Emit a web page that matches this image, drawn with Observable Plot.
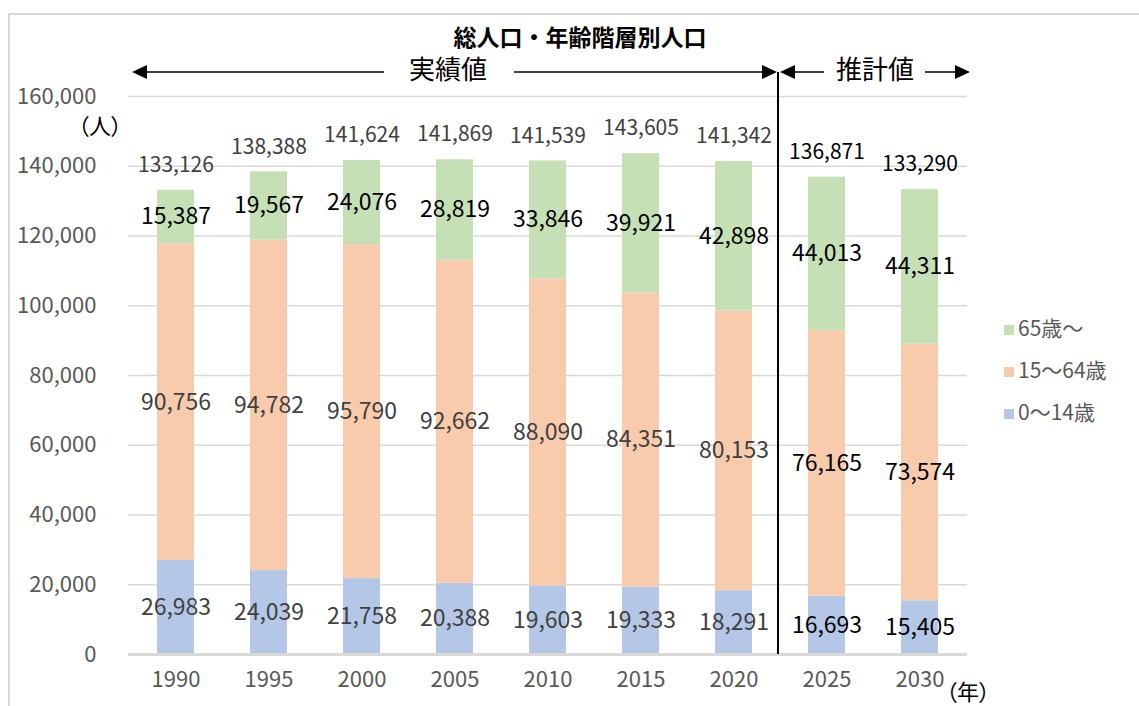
<!DOCTYPE html>
<html lang="ja">
<head>
<meta charset="utf-8">
<script src="https://cdn.jsdelivr.net/npm/d3@7"></script>
<script src="https://cdn.jsdelivr.net/npm/@observablehq/plot@0.6"></script>
<style>
  html, body { margin: 0; padding: 0; background: #fff; }
  #wrap { position: relative; width: 1139px; height: 706px; overflow: hidden; }
  #frame { position: absolute; left: 8px; top: 13px; width: 1200px; height: 800px;
           border-top: 2px solid #d9d9d9; border-left: 2px solid #d9d9d9; box-sizing: border-box; }
  #chart { position: absolute; left: 0; top: 0; }
  .palt { font-feature-settings: "palt"; }
</style>
</head>
<body>
<div id="wrap"><div id="frame"></div><div id="chart"></div></div>
<script>
// ---- data ----
const title = "総人口・年齢階層別人口";
const years = ["1990", "1995", "2000", "2005", "2010", "2015", "2020", "2025", "2030"];
const projectedYears = ["2025", "2030"];
const groups = ["0～14歳", "15～64歳", "65歳～"];
const age0to14 = [26983, 24039, 21758, 20388, 19603, 19333, 18291, 16693, 15405];
const age15to64 = [90756, 94782, 95790, 92662, 88090, 84351, 80153, 76165, 73574];
const age65plus = [15387, 19567, 24076, 28819, 33846, 39921, 42898, 44013, 44311];
const totals = [133126, 138388, 141624, 141869, 141539, 143605, 141342, 136871, 133290];
const yTicks = [0, 20000, 40000, 60000, 80000, 100000, 120000, 140000, 160000];
const colors = ["#B4C7E7", "#F8CBAD", "#C5E0B4"];
const actualLabel = "実績値";
const projectedLabel = "推計値";
const yUnit = "（人）";
const xUnit = "（年）";

// ---- table ----
const series = [age0to14, age15to64, age65plus];
const rows = [];
groups.forEach((g, gi) => years.forEach((y, i) => rows.push({year: y, group: g, value: series[gi][i]})));
const totalRows = years.map((y, i) => ({year: y, total: totals[i]}));

const fmt = d3.format(",");
const font = '"Noto Sans CJK JP", "Noto Sans", sans-serif';
const W = 1139, H = 706;
const groupColor = g => colors[groups.indexOf(g)];
const labelColor = d => (d.group === "65歳～" || projectedYears.includes(d.year)) ? "#000000" : "#404040";
const totalColor = d => projectedYears.includes(d.year) ? "#000000" : "#404040";

const plot = Plot.plot({
  width: W, height: H,
  marginTop: 96, marginBottom: 52, marginLeft: 128, marginRight: 172,
  style: {fontFamily: font, fontSize: "21px", background: "transparent", overflow: "visible"},
  x: {domain: years, paddingInner: 0.6, paddingOuter: 0.3, label: null},
  y: {domain: [0, 160000], label: null},
  color: {type: "identity"},
  marks: [
    Plot.gridY(yTicks, {stroke: "#d9d9d9", strokeOpacity: 1, strokeWidth: 1.5}),
    Plot.barY(rows, {x: "year", y: "value", z: "group", fill: d => groupColor(d.group)}),
    Plot.ruleY([0], {stroke: "#d9d9d9", strokeWidth: 3}),
    Plot.axisY(yTicks, {tickSize: 0, tickPadding: 32, tickFormat: fmt, fill: "#595959", fontSize: 22, label: null}),
    Plot.axisX({tickSize: 0, tickPadding: 17, fill: "#595959", fontSize: 22, label: null}),
    Plot.text(rows, Plot.stackY({x: "year", y: "value", z: "group", text: d => fmt(d.value),
      fill: labelColor, fontSize: 23})),
    Plot.text(totalRows, {x: "year", y: "total", dy: -25, text: d => fmt(d.total), fontSize: 21,
      fill: totalColor})
  ]
});
document.getElementById("chart").appendChild(plot);

// ---- annotations positioned from Plot scales ----
const xs = plot.scale("x"), ys = plot.scale("y");
const svg = d3.select(plot);
const left = 128, right = W - 172;
const yTop = ys.apply(160000), yBase = ys.apply(0);
const xDiv = (xs.apply("2020") + xs.apply("2025") + xs.bandwidth) / 2 - 2;
const arrowY = yTop - 24;
const g = svg.append("g").attr("font-family", font);

function arrow(x1, x2, y) {
  const dir = Math.sign(x2 - x1);
  g.append("line").attr("x1", x1).attr("x2", x2 - dir * 12).attr("y1", y).attr("y2", y)
    .attr("stroke", "#000").attr("stroke-width", 1.5);
  g.append("path").attr("d", `M${x2},${y}L${x2 - dir * 15},${y - 7}L${x2 - dir * 15},${y + 7}Z`).attr("fill", "#000");
}

// title
g.append("text").attr("x", 580).attr("y", yTop - 56).attr("text-anchor", "middle")
  .attr("dominant-baseline", "middle").attr("font-size", 23).attr("font-weight", "bold").attr("fill", "#000").text(title);

// divider
g.append("line").attr("x1", xDiv).attr("x2", xDiv).attr("y1", arrowY).attr("y2", yBase)
  .attr("stroke", "#000").attr("stroke-width", 2);

// actual-values arrows
const aCenter = (left + 4 + xDiv) / 2 - 7;
arrow(aCenter - 64, left + 4, arrowY);
arrow(aCenter + 66, xDiv - 1, arrowY);
g.append("text").attr("x", aCenter).attr("y", arrowY).attr("text-anchor", "middle")
  .attr("dominant-baseline", "middle").attr("font-size", 26).attr("fill", "#000").text(actualLabel);

// projected-values arrows
const pCenter = (xDiv + 2 + right + 3) / 2;
arrow(pCenter - 51, xDiv + 2, arrowY);
arrow(pCenter + 50, right + 3, arrowY);
g.append("text").attr("x", pCenter).attr("y", arrowY).attr("text-anchor", "middle")
  .attr("dominant-baseline", "middle").attr("font-size", 26).attr("fill", "#000").text(projectedLabel);

// units
g.append("text").attr("class", "palt").attr("x", 122).attr("y", yTop + 32).attr("text-anchor", "end")
  .attr("dominant-baseline", "middle").attr("font-size", 22).attr("fill", "#000").text(yUnit);
g.append("text").attr("class", "palt").attr("x", right - 21).attr("y", yBase + 40).attr("text-anchor", "start")
  .attr("dominant-baseline", "middle").attr("font-size", 22).attr("fill", "#000").text(xUnit);

// legend
const legendGroups = groups.slice().reverse();
legendGroups.forEach((grp, i) => {
  const cy = 330 + i * 42;
  g.append("rect").attr("x", 1004).attr("y", cy - 5).attr("width", 10).attr("height", 10).attr("fill", groupColor(grp));
  g.append("text").attr("x", 1018).attr("y", cy).attr("text-anchor", "start").attr("dominant-baseline", "middle")
    .attr("font-size", 21).attr("fill", "#595959").text(grp);
});
</script>
</body>
</html>
